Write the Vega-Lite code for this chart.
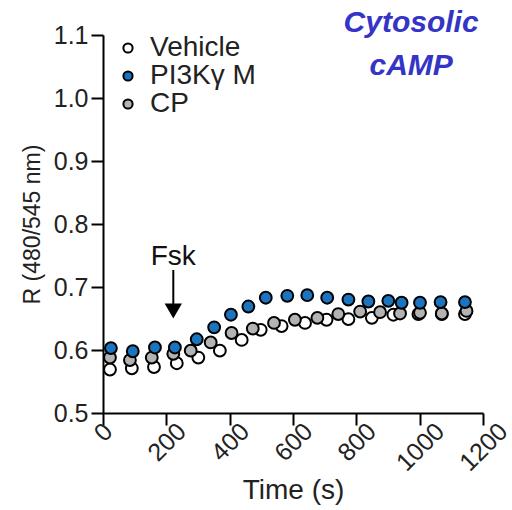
{
  "$schema": "https://vega.github.io/schema/vega-lite/v6.json",
  "autosize": "none",
  "padding": {"left": 103, "top": 35, "right": 29, "bottom": 97},
  "width": 380,
  "height": 378,
  "background": "white",
  "config": {
    "view": {"stroke": null},
    "axis": {
      "grid": false,
      "domainColor": "black",
      "domainWidth": 2,
      "tickColor": "black",
      "tickWidth": 2,
      "tickSize": 12,
      "labelFont": "Liberation Sans",
      "labelFontSize": 25,
      "labelColor": "#222222",
      "titleFont": "Liberation Sans",
      "titleFontWeight": "normal",
      "titleColor": "#222222"
    }
  },
  "datasets": {
    "series": [
      {"group": "Vehicle", "time": 22, "r": 0.569},
      {"group": "Vehicle", "time": 91, "r": 0.571},
      {"group": "Vehicle", "time": 161, "r": 0.573},
      {"group": "Vehicle", "time": 233, "r": 0.579},
      {"group": "Vehicle", "time": 301, "r": 0.588},
      {"group": "Vehicle", "time": 369, "r": 0.599},
      {"group": "Vehicle", "time": 438, "r": 0.616},
      {"group": "Vehicle", "time": 498, "r": 0.632},
      {"group": "Vehicle", "time": 564, "r": 0.638},
      {"group": "Vehicle", "time": 638, "r": 0.643},
      {"group": "Vehicle", "time": 706, "r": 0.648},
      {"group": "Vehicle", "time": 775, "r": 0.649},
      {"group": "Vehicle", "time": 849, "r": 0.651},
      {"group": "Vehicle", "time": 917, "r": 0.656},
      {"group": "Vehicle", "time": 996, "r": 0.657},
      {"group": "Vehicle", "time": 1070, "r": 0.657},
      {"group": "Vehicle", "time": 1143, "r": 0.657},
      {"group": "CP", "time": 22, "r": 0.588},
      {"group": "CP", "time": 85, "r": 0.584},
      {"group": "CP", "time": 154, "r": 0.588},
      {"group": "CP", "time": 222, "r": 0.594},
      {"group": "CP", "time": 277, "r": 0.599},
      {"group": "CP", "time": 340, "r": 0.612},
      {"group": "CP", "time": 406, "r": 0.627},
      {"group": "CP", "time": 473, "r": 0.634},
      {"group": "CP", "time": 540, "r": 0.643},
      {"group": "CP", "time": 606, "r": 0.648},
      {"group": "CP", "time": 677, "r": 0.651},
      {"group": "CP", "time": 743, "r": 0.657},
      {"group": "CP", "time": 812, "r": 0.661},
      {"group": "CP", "time": 875, "r": 0.660},
      {"group": "CP", "time": 938, "r": 0.658},
      {"group": "CP", "time": 1001, "r": 0.659},
      {"group": "CP", "time": 1070, "r": 0.658},
      {"group": "CP", "time": 1148, "r": 0.662},
      {"group": "PI3Kγ M", "time": 25, "r": 0.603},
      {"group": "PI3Kγ M", "time": 94, "r": 0.598},
      {"group": "PI3Kγ M", "time": 164, "r": 0.604},
      {"group": "PI3Kγ M", "time": 227, "r": 0.604},
      {"group": "PI3Kγ M", "time": 296, "r": 0.617},
      {"group": "PI3Kγ M", "time": 351, "r": 0.636},
      {"group": "PI3Kγ M", "time": 404, "r": 0.656},
      {"group": "PI3Kγ M", "time": 459, "r": 0.669},
      {"group": "PI3Kγ M", "time": 514, "r": 0.683},
      {"group": "PI3Kγ M", "time": 582, "r": 0.686},
      {"group": "PI3Kγ M", "time": 645, "r": 0.687},
      {"group": "PI3Kγ M", "time": 708, "r": 0.683},
      {"group": "PI3Kγ M", "time": 775, "r": 0.680},
      {"group": "PI3Kγ M", "time": 838, "r": 0.677},
      {"group": "PI3Kγ M", "time": 901, "r": 0.678},
      {"group": "PI3Kγ M", "time": 943, "r": 0.675},
      {"group": "PI3Kγ M", "time": 1001, "r": 0.675},
      {"group": "PI3Kγ M", "time": 1066, "r": 0.676},
      {"group": "PI3Kγ M", "time": 1143, "r": 0.676}
    ],
    "note": [{"label": "Fsk"}]
  },
  "layer": [
    {
      "data": {"name": "series"},
      "mark": {"type": "circle", "size": 140, "stroke": "black", "strokeWidth": 2, "opacity": 1},
      "encoding": {
        "x": {
          "field": "time", "type": "quantitative",
          "scale": {"domain": [0, 1200], "nice": false},
          "axis": {
            "title": "Time (s)",
            "titleFontSize": 28,
            "values": [0, 200, 400, 600, 800, 1000, 1200],
            "format": "d",
            "labelAngle": -45,
            "labelAlign": "right",
            "labelBaseline": "middle",
            "labelPadding": 2,
            "labelOffset": {"condition": [{"test": "datum.value >= 1000", "value": 20}, {"test": "datum.value >= 100", "value": 15}], "value": 5},
            "titlePadding": 1
          }
        },
        "y": {
          "field": "r", "type": "quantitative",
          "scale": {"domain": [0.5, 1.1], "nice": false, "zero": false},
          "axis": {
            "title": "R (480/545 nm)",
            "titleFontSize": 23,
            "values": [0.5, 0.6, 0.7, 0.8, 0.9, 1.0, 1.1],
            "format": ".1f",
            "labelPadding": 3,
            "titlePadding": 9
          }
        },
        "fill": {
          "field": "group", "type": "nominal",
          "scale": {"domain": ["Vehicle", "PI3Kγ M", "CP"], "range": ["#ffffff", "#1b74bd", "#b3b3b3"]},
          "legend": {
            "title": null,
            "orient": "none",
            "legendX": 11,
            "legendY": -1,
            "padding": 0,
            "symbolType": "circle",
            "symbolSize": 85,
            "symbolStrokeColor": "black",
            "symbolStrokeWidth": 2,
            "labelFont": "Liberation Sans",
            "labelFontSize": 28,
            "labelColor": "#222222",
            "labelOffset": 8,
            "rowPadding": 0
          }
        }
      }
    },
    {
      "data": {"name": "note"},
      "mark": {"type": "text", "font": "Liberation Sans", "fontSize": 28, "color": "#111111", "align": "center", "baseline": "alphabetic"},
      "encoding": {
        "text": {"field": "label"},
        "x": {"datum": 222, "type": "quantitative"},
        "y": {"datum": 0.735, "type": "quantitative"}
      }
    },
    {
      "data": {"name": "note"},
      "mark": {"type": "rule", "color": "black", "strokeWidth": 2},
      "encoding": {
        "x": {"datum": 222, "type": "quantitative"},
        "y": {"datum": 0.727, "type": "quantitative"},
        "y2": {"datum": 0.668}
      }
    },
    {
      "data": {"name": "note"},
      "mark": {"type": "point", "shape": "triangle-down", "filled": true, "color": "black", "size": 300, "opacity": 1},
      "encoding": {
        "x": {"datum": 222, "type": "quantitative"},
        "y": {"datum": 0.662, "type": "quantitative"}
      }
    },
    {
      "data": {"name": "note"},
      "mark": {"type": "text", "text": ["Cytosolic", "cAMP"], "lineHeight": 43, "font": "Liberation Sans", "fontSize": 30, "fontStyle": "italic", "fontWeight": "bold", "color": "#3434c6", "align": "center", "baseline": "alphabetic"},
      "encoding": {
        "x": {"datum": 973, "type": "quantitative"},
        "y": {"datum": 1.105, "type": "quantitative"}
      }
    }
  ]
}
